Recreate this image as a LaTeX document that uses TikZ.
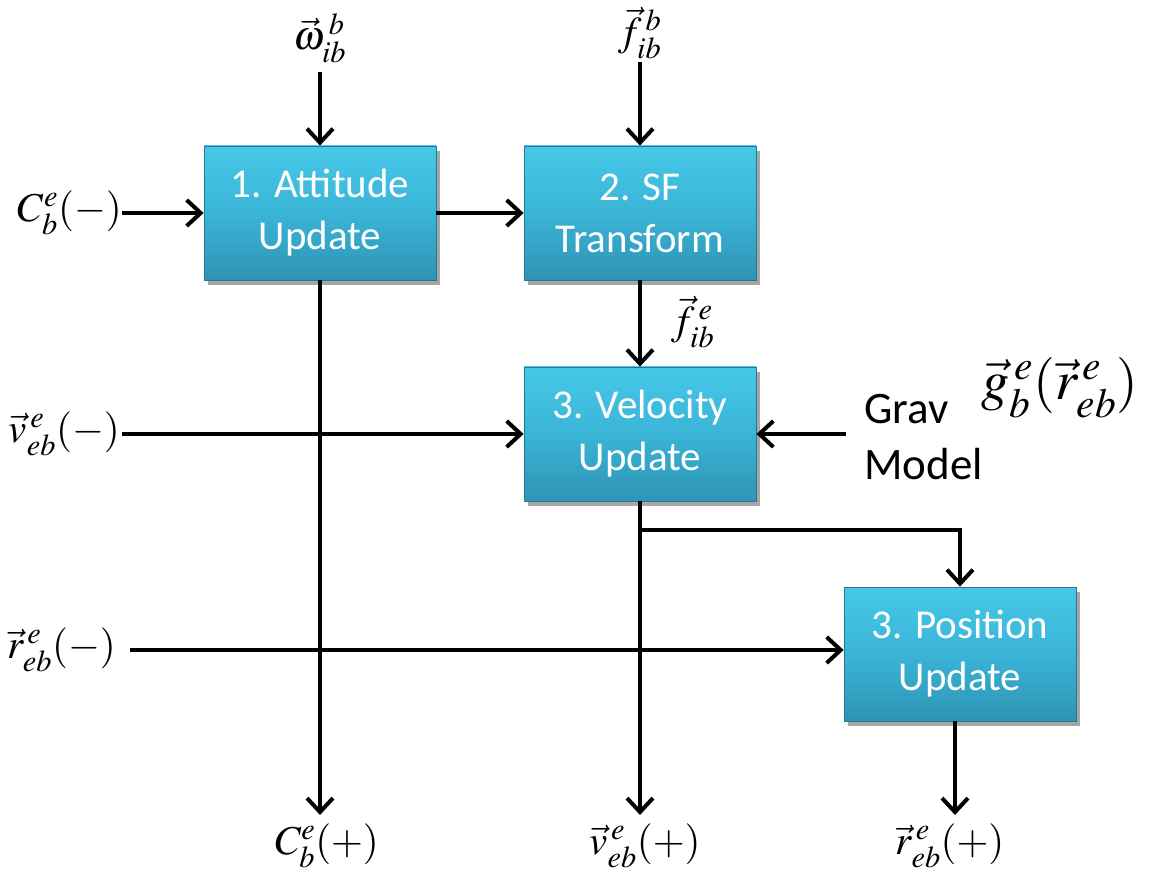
\documentclass[tikz,border=0pt]{standalone}
\usepackage{fontspec}
\usepackage{mathptmx}
\newfontfamily\boxfont{Carlito}
\usetikzlibrary{arrows.meta,shadows}
\begin{document}
\begin{tikzpicture}[x=1pt,y=-1pt,
  box/.style={draw=boxedge,line width=0.8pt,top color=boxtop,bottom color=boxbot,middle color=boxmid,
    minimum width=232pt,minimum height=134pt,align=center,text=white,
    font=\boxfont\fontsize{41}{52}\selectfont,
    drop shadow={shadow xshift=4pt,shadow yshift=-5pt,opacity=0.35,fill=black}},
  lab/.style={font=\fontsize{41}{46}\selectfont,inner sep=0pt},
  txt/.style={font=\boxfont\fontsize{45}{56}\selectfont,align=left,inner sep=0pt},
  conn/.style={line width=4pt,-{Straight Barb[length=14pt,width=26pt,line width=4pt]}},
  plain/.style={line width=4pt}]
\definecolor{boxtop}{RGB}{70,200,232}
\definecolor{boxmid}{RGB}{58,180,215}
\definecolor{boxbot}{RGB}{46,148,180}
\definecolor{boxedge}{RGB}{38,120,148}
\useasboundingbox (0,0) rectangle (1152,874);
% boxes
\node[box] (att) at (320,213) {1. Attitude\\Update};
\node[box] (sf) at (640,213) {2. SF\\Transform};
\node[box] (vel) at (640,434) {3. Velocity\\Update};
\node[box] (pos) at (960,654) {3. Position\\Update};
% input labels
\node[lab] (w) at (320,38) {$\vec{\omega}^{\,b}_{ib}$};
\node[lab] (fb) at (640,33) {$\vec{f}^{\,b}_{ib}$};
\node[lab] (fe) at (693,322) {$\vec{f}^{\,e}_{ib}$};
\node[lab,anchor=east] (cin) at (122,213) {$C^e_b(-)$};
\node[lab,anchor=east] (vin) at (120,434) {$\vec{v}^{\,e}_{eb}(-)$};
\node[lab,anchor=east] (rin) at (116,650) {$\vec{r}^{\,e}_{eb}(-)$};
\node[txt,anchor=west] (grav) at (864,437) {Grav\\Model};
\node[lab,font=\fontsize{56}{60}\selectfont] (g) at (1060,388) {$\vec{g}^{\,e}_b(\vec{r}^{\,e}_{eb})$};
% output labels
\node[lab] (cout) at (327,846) {$C^e_b(+)$};
\node[lab] (vout) at (645,846) {$\vec{v}^{\,e}_{eb}(+)$};
\node[lab] (rout) at (950,846) {$\vec{r}^{\,e}_{eb}(+)$};
% coordinates
\coordinate (wtop) at (320,72);
\coordinate (fbtop) at (640,62);
\coordinate (cend) at (320,815);
\coordinate (vend) at (640,815);
\coordinate (rend) at (955,815);
\coordinate (split) at (640,530);
\coordinate (gravstart) at (846,434);
\coordinate (vstart) at (122,434);
\coordinate (rstart) at (130,650);
% connectors
\draw[conn] (wtop) -- (att.north);
\draw[conn] (fbtop) -- (sf.north);
\draw[conn] (cin.east) -- (att.west);
\draw[conn] (att.east) -- (sf.west);
\draw[conn] (sf.south) -- (vel.north);
\draw[conn] (vstart) -- (vel.west);
\draw[conn] (gravstart) -- (vel.east);
\draw[conn] (att.south) -- (cend);
\draw[conn] (vel.south) -- (vend);
\draw[conn,line cap=butt] (split) -| (pos.north);
\draw[conn] (rstart) -- (rstart -| pos.west);
\draw[conn] (pos.south -| rend) -- (rend);
\end{tikzpicture}
\end{document}
